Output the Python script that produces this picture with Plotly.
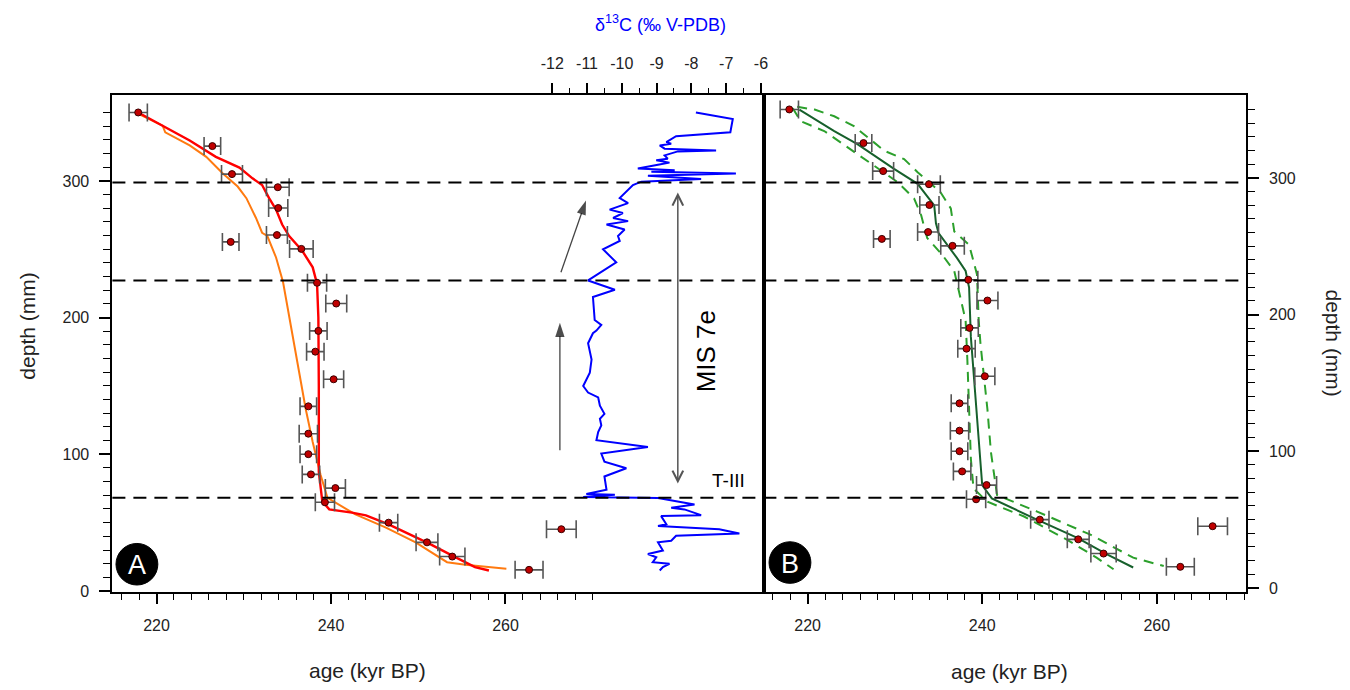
import plotly.graph_objects as go

# ---------------- data ----------------
# U-Th dates (age kyr BP, depth mm, 2-sigma error kyr)
date_age = [217.9, 226.4, 228.65, 233.9, 233.95, 233.8, 228.5, 236.6, 238.4, 240.6, 238.55, 238.2,
            240.3, 237.4, 237.4, 237.4, 237.7, 240.5, 239.3, 246.6, 251.0, 253.9, 262.7, 266.4]
date_depth = [350.1, 325.5, 305.0, 295.4, 280.2, 260.4, 255.4, 250.3, 225.5, 210.3, 190.3, 175.1,
              154.9, 135.1, 115.1, 100.1, 85.3, 75.3, 64.9, 50.0, 35.6, 25.2, 15.5, 45.2]
date_err = [1.05, 0.95, 1.2, 1.3, 1.1, 1.2, 0.95, 1.35, 1.1, 1.2, 1.0, 1.0,
            1.15, 0.95, 1.05, 0.95, 1.0, 1.15, 1.1, 1.05, 1.25, 1.45, 1.6, 1.7]

# Panel A age models
red_age = [217.9, 220.7, 223.8, 226.8, 229.5, 231.0, 232.1, 232.9, 233.7, 234.4, 235.2, 236.7, 237.9,
           238.4, 238.55, 238.6, 238.6, 239.0, 239.8, 242.4, 244.0, 246.6, 251.2, 253.9, 256.5, 258.1]
red_depth = [350.1, 340.4, 329.6, 317.6, 309.8, 301.9, 297.0, 287.4, 279.0, 268.1, 259.7, 248.9, 236.8,
             224.7, 200.0, 150.0, 87.3, 65.6, 59.7, 57.3, 55.3, 48.8, 34.8, 25.9, 17.5, 15.0]

orange_age = [217.98, 220.7, 221.0, 223.8, 225.7, 227.6, 229.3, 230.3, 231.4, 232.1, 232.7, 233.7, 234.5,
              235.4, 236.3, 237.1, 237.9, 238.4, 238.8, 239.6, 240.9, 242.8, 246.3, 249.7, 253.3, 255.4, 260.1]
orange_depth = [348.9, 340.4, 335.6, 326.0, 317.6, 305.5, 295.9, 287.4, 272.9, 262.1, 259.7, 244.0, 226.0,
                193.4, 159.7, 133.2, 109.0, 95.0, 85.0, 68.1, 63.3, 56.0, 46.4, 35.6, 21.1, 19.2, 16.3]

# d13C record (per mil V-PDB) vs depth (mm)
c13_depth = [350.1, 345.3, 335.6, 332.7, 328.4, 327.2, 326.0, 323.6, 322.3, 321.6, 318.7, 316.3, 315.1,
             313.4, 311.9, 309.1, 307.9, 306.7, 305.5, 303.8, 301.4, 299.5, 297.0, 292.2, 287.4, 283.8,
             279.0, 276.5, 272.9, 270.6, 268.1, 264.5, 259.7, 256.1, 250.0, 240.4, 227.2, 220.4, 215.1,
             198.2, 194.6, 190.5, 188.6, 181.3, 169.3, 159.7, 150.0, 145.2, 141.6, 135.6, 129.6, 126.0,
             121.2, 116.3, 110.3, 105.4, 100.6, 94.6, 89.8, 83.8, 74.1, 71.0, 70.5, 68.8, 68.1, 63.3,
             60.9, 59.7, 55.5, 54.8, 48.8, 47.6, 45.2, 42.1, 40.4, 36.8, 35.6, 29.6, 27.1, 24.7, 21.1,
             19.9, 17.5, 15.0]
c13_value = [-7.87, -6.81, -6.88, -8.44, -8.72, -8.58, -8.91, -8.77, -7.29, -8.39, -8.77, -8.68, -9.01,
             -8.63, -8.96, -9.54, -8.48, -9.15, -6.72, -9.25, -7.72, -9.44, -9.68, -9.87, -10.06, -9.82,
             -10.35, -9.97, -10.25, -9.82, -10.44, -9.92, -10.11, -10.06, -10.54, -10.16, -10.97, -10.2, -10.83,
             -10.78, -10.59, -10.73, -10.83, -10.97, -10.87, -10.92, -11.11, -10.97, -10.68, -10.63, -10.5, -10.63,
             -10.59, -10.68, -10.73, -9.25, -10.59, -10.5, -9.87, -10.5, -10.44, -11.02, -10.2, -11.11, -8.96, -7.91,
             -8.58, -8.2, -7.72, -8.87, -8.72, -8.96, -7.20, -6.62, -8.44, -8.58, -8.96, -8.82, -9.25, -9.01, -9.11,
             -8.63, -8.82, -8.91]

# Panel B age model with confidence band
model_age = [219.05, 223.05, 225.7, 229.9, 232.6, 234.1, 234.5, 234.7, 235.0, 237.1, 238.1, 238.5, 238.7,
             240.0, 241.1, 245.9, 250.9, 254.3, 257.3]
model_depth = [350.0, 334.3, 324.7, 306.6, 295.7, 283.7, 280.0, 266.8, 259.6, 241.5, 231.9, 219.8, 183.7,
               75.2, 65.6, 51.1, 36.7, 24.6, 15.0]
low_age = [218.3, 219.2, 221.9, 223.8, 226.9, 230.3, 232.2, 233.0, 233.7, 235.4, 236.8, 237.3, 238.1,
           238.3, 238.5, 238.7, 239.0, 240.6, 244.8, 249.7, 253.1, 255.05]
low_depth = [351.0, 341.5, 334.3, 325.9, 312.6, 297.0, 284.9, 272.8, 256.0, 243.9, 231.9, 217.4, 195.7,
             166.8, 130.6, 94.5, 72.8, 63.1, 52.3, 35.4, 22.2, 13.7]
up_age = [218.8, 220.8, 223.05, 225.3, 228.8, 231.05, 232.6, 235.2, 236.4, 236.8, 238.5, 239.4, 239.6,
          239.8, 240.6, 241.0, 241.7, 246.3, 252.4, 257.3, 260.8]
up_depth = [352.0, 350.0, 345.1, 337.9, 319.8, 313.8, 304.2, 289.7, 277.7, 260.8, 251.1, 229.4, 195.7,
            178.8, 130.6, 99.3, 68.0, 55.9, 39.0, 22.2, 16.1]

# horizontal event lines (depth, mm)
event_depths = [298.8, 227.2, 68.3]

# tick labels
age_ticks = [220, 240, 260]
age_minor = [a for a in range(216, 271, 2) if a not in age_ticks]
depth_ticks = [0, 100, 200, 300]
depth_minor = [d for d in range(10, 351, 10) if d not in depth_ticks]
c13_ticks = [-12, -11, -10, -9, -8, -7, -6]
c13_labels = ["-12", "-11", "-10", "-9", "-8", "-7", "-6"]
c13_minor = [-11.5, -10.5, -9.5, -8.5, -7.5, -6.5]

# ---------------- figure ----------------
FONT = "Liberation Sans, Arial, sans-serif"
OFF = 8                       # default page body margin
W, H = 1350 - OFF, 690 - OFF  # figure fills the window


def px(p):   # page x pixel -> paper
    return (p - OFF) / W


def py(p):   # page y pixel -> paper
    return (H - (p - OFF)) / H


xA = [px(112.7), px(766)]
xB = [px(766), px(1249.5)]
yD = [py(598.3), py(96)]

fig = go.Figure()

# Panel A lines
fig.add_trace(go.Scatter(x=orange_age, y=orange_depth, mode="lines",
                         line=dict(color="#ff7a10", width=2), xaxis="x", yaxis="y", showlegend=False))
fig.add_trace(go.Scatter(x=red_age, y=red_depth, mode="lines",
                         line=dict(color="#ff0000", width=2.4), xaxis="x", yaxis="y", showlegend=False))
fig.add_trace(go.Scatter(x=c13_value, y=c13_depth, mode="lines",
                         line=dict(color="#0000ff", width=2), xaxis="x3", yaxis="y", showlegend=False))

marker = dict(color="#c00000", size=7, line=dict(color="#3a0000", width=1))
errx = dict(type="data", array=date_err, symmetric=True, color="#555555", thickness=1.6, width=9)
fig.add_trace(go.Scatter(x=date_age, y=date_depth, mode="markers", marker=marker, error_x=errx,
                         xaxis="x", yaxis="y", showlegend=False))

# trend arrows (d13C / depth frame of panel A), filled heads
for ax_, ay_, x_, y_ in [(-11.78, 103.0, -11.78, 196.2), (-11.75, 233.2, -11.03, 285.7)]:
    fig.add_trace(go.Scatter(x=[ax_, x_], y=[ay_, y_], mode="lines+markers", xaxis="x3", yaxis="y",
                             line=dict(color="#444", width=1.3),
                             marker=dict(symbol="arrow", size=[0, 15], angleref="previous",
                                         color="#000", line=dict(width=0)),
                             showlegend=False, hoverinfo="skip"))

# Panel B
for a, d in [(low_age, low_depth), (up_age, up_depth)]:
    fig.add_trace(go.Scatter(x=a, y=d, mode="lines", line=dict(color="#2ca02c", width=2, dash="10px,7px"),
                             xaxis="x2", yaxis="y2", showlegend=False))
fig.add_trace(go.Scatter(x=model_age, y=model_depth, mode="lines", line=dict(color="#17602c", width=2),
                         xaxis="x2", yaxis="y2", showlegend=False))
fig.add_trace(go.Scatter(x=date_age, y=date_depth, mode="markers", marker=marker, error_x=errx,
                         xaxis="x2", yaxis="y2", showlegend=False))

axis_common = dict(showline=True, linecolor="black", linewidth=2, showgrid=False, zeroline=False,
                   ticks="outside", tickcolor="black", tickwidth=1.5,
                   tickfont=dict(family=FONT, size=16, color="#222"))

fig.update_layout(
    width=W, height=H, margin=dict(l=0, r=0, t=0, b=0),
    paper_bgcolor="white", plot_bgcolor="white",
    font=dict(family=FONT, size=16, color="#222"),
    xaxis=dict(domain=xA, range=[214.94, 289.6], anchor="y", tickmode="array", tickvals=age_ticks,
               ticklen=10, ticklabelstandoff=8, mirror=True,
               minor=dict(tickmode="array", tickvals=age_minor, ticks="outside", ticklen=6,
                          tickcolor="black", tickwidth=1.2),
               **axis_common),
    yaxis=dict(domain=yD, range=[-0.9, 362.8], anchor="x", tickmode="array", tickvals=depth_ticks,
               ticklen=11, ticklabelstandoff=7, mirror=True,
               minor=dict(tickmode="array", tickvals=depth_minor, ticks="outside", ticklen=7,
                          tickcolor="black", tickwidth=1.2),
               **axis_common),
    xaxis3=dict(domain=xA, range=[-24.645, -5.92], anchor="y", overlaying="x", side="top",
                tickmode="array", tickvals=c13_ticks, ticktext=c13_labels, ticklen=10, ticklabelstandoff=8,
                minor=dict(tickmode="array", tickvals=c13_minor, ticks="outside", ticklen=5,
                           tickcolor="black", tickwidth=1.2),
                **axis_common),
    xaxis2=dict(domain=xB, range=[214.97, 270.2], anchor="y2", tickmode="array", tickvals=age_ticks,
                ticklen=10, ticklabelstandoff=8, mirror=True,
                minor=dict(tickmode="array", tickvals=age_minor, ticks="outside", ticklen=6,
                           tickcolor="black", tickwidth=1.2),
                **axis_common),
    yaxis2=dict(domain=yD, range=[-3.1, 360.6], anchor="x2", side="right", tickmode="array",
                tickvals=depth_ticks, ticklen=11, ticklabelstandoff=7, mirror=True,
                minor=dict(tickmode="array", tickvals=depth_minor, ticks="outside", ticklen=7,
                           tickcolor="black", tickwidth=1.2),
                **axis_common),
)

# dashed event lines across both panels
for d in event_depths:
    fig.add_shape(type="line", xref="paper", yref="y", x0=xA[0], x1=xB[1], y0=d, y1=d,
                  line=dict(color="black", width=2, dash="13px,8px"), layer="above")

# panel letters
for cx, cy, letter in [(137.3, 570, "A"), (792.3, 568.3, "B")]:
    r = 21
    fig.add_shape(type="circle", xref="paper", yref="paper",
                  x0=px(cx - r), x1=px(cx + r), y0=py(cy + r), y1=py(cy - r),
                  fillcolor="black", line=dict(color="black", width=1), layer="above")
    fig.add_annotation(x=px(cx), y=py(cy + 1), xref="paper", yref="paper", text=letter,
                       xanchor="center", yanchor="middle",
                       showarrow=False, font=dict(family=FONT, size=27, color="white"))

# double-headed MIS 7e arrow
fig.add_annotation(xref="x3", yref="y", axref="x3", ayref="y", x=-8.39, y=291.5, ax=-8.39, ay=77.5,
                   showarrow=True, arrowhead=5, arrowside="end+start", arrowsize=1.4, arrowwidth=1.5,
                   arrowcolor="#555", startarrowhead=5, startarrowsize=1.4, text="")

label = dict(xref="paper", yref="paper", showarrow=False, xanchor="center", yanchor="middle")
fig.add_annotation(x=px(709), y=py(355), text="MIS 7e", textangle=-90,
                   font=dict(family=FONT, size=26, color="black"), **label)
fig.add_annotation(x=px(731), y=py(485), text="T-III",
                   font=dict(family=FONT, size=19, color="black"), **label)

# axis titles
fig.add_annotation(x=px(369), y=py(677), text="age (kyr BP)",
                   font=dict(family=FONT, size=21, color="#222"), **label)
fig.add_annotation(x=px(1012), y=py(678), text="age (kyr BP)",
                   font=dict(family=FONT, size=21, color="#222"), **label)
fig.add_annotation(x=px(28), y=py(329), text="depth (mm)", textangle=-90,
                   font=dict(family=FONT, size=21, color="#222"), **label)
fig.add_annotation(x=px(1337), y=py(346), text="depth (mm)", textangle=90,
                   font=dict(family=FONT, size=21, color="#222"), **label)
fig.add_annotation(x=px(662), y=py(24), text="\u03b4<sup>13</sup>C (\u2030 V-PDB)",
                   font=dict(family=FONT, size=18, color="#0000ff"), **label)

fig.write_html("out.html")
